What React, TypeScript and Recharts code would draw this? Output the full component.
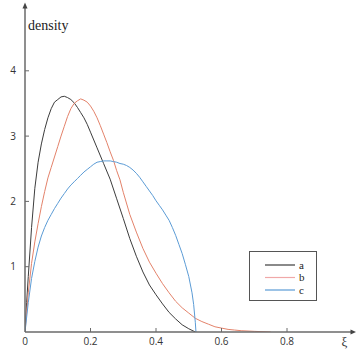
import * as React from 'react';
import { LineChart, Line, XAxis, YAxis, Legend, ReferenceDot } from 'recharts';

// density estimates, as [ξ, density]
const seriesA: [number, number][] = [
  [0, 0], [0.005, 0.45], [0.01, 0.85], [0.02, 1.6], [0.03, 2.2], [0.04, 2.6], [0.05, 2.88],
  [0.06, 3.1], [0.07, 3.28], [0.08, 3.42], [0.09, 3.52], [0.1, 3.56], [0.11, 3.6],
  [0.12, 3.61], [0.13, 3.59], [0.14, 3.56], [0.15, 3.51], [0.16, 3.44], [0.17, 3.36],
  [0.18, 3.28], [0.19, 3.18], [0.2, 3.06], [0.22, 2.82], [0.24, 2.58], [0.26, 2.34],
  [0.28, 2.04], [0.3, 1.74], [0.32, 1.43], [0.34, 1.16], [0.36, 0.92], [0.38, 0.72],
  [0.4, 0.57], [0.42, 0.43], [0.44, 0.3], [0.46, 0.2], [0.48, 0.11], [0.5, 0.05], [0.52, 0],
];

const seriesB: [number, number][] = [
  [0, 0], [0.01, 0.6], [0.02, 1.05], [0.03, 1.38], [0.04, 1.66], [0.05, 1.92], [0.06, 2.15],
  [0.07, 2.36], [0.08, 2.52], [0.09, 2.68], [0.1, 2.84], [0.11, 3.0], [0.12, 3.15],
  [0.13, 3.3], [0.14, 3.42], [0.15, 3.5], [0.16, 3.54], [0.17, 3.57], [0.18, 3.55],
  [0.19, 3.52], [0.2, 3.46], [0.21, 3.38], [0.22, 3.28], [0.23, 3.16], [0.24, 3.03],
  [0.25, 2.9], [0.26, 2.76], [0.27, 2.63], [0.28, 2.47], [0.29, 2.33], [0.3, 2.14],
  [0.32, 1.8], [0.34, 1.53], [0.36, 1.28], [0.38, 1.07], [0.4, 0.9], [0.42, 0.74],
  [0.44, 0.6], [0.46, 0.47], [0.48, 0.37], [0.5, 0.29], [0.52, 0.21], [0.54, 0.16],
  [0.56, 0.12], [0.58, 0.08], [0.6, 0.06], [0.62, 0.04], [0.64, 0.03], [0.66, 0.02],
  [0.7, 0.01], [0.75, 0],
];

const seriesC: [number, number][] = [
  [0, 0], [0.01, 0.45], [0.02, 0.82], [0.03, 1.08], [0.04, 1.3], [0.05, 1.47], [0.06, 1.6],
  [0.07, 1.71], [0.08, 1.8], [0.09, 1.89], [0.1, 1.97], [0.11, 2.05], [0.12, 2.12],
  [0.13, 2.19], [0.14, 2.25], [0.15, 2.3], [0.16, 2.35], [0.17, 2.4], [0.18, 2.45],
  [0.19, 2.49], [0.2, 2.53], [0.21, 2.57], [0.22, 2.6], [0.23, 2.61], [0.24, 2.62],
  [0.25, 2.62], [0.26, 2.62], [0.27, 2.61], [0.28, 2.6], [0.29, 2.58], [0.3, 2.57],
  [0.31, 2.55], [0.32, 2.52], [0.33, 2.48], [0.34, 2.43], [0.35, 2.37], [0.36, 2.3],
  [0.37, 2.23], [0.38, 2.16], [0.39, 2.09], [0.4, 2.01], [0.41, 1.94], [0.42, 1.87],
  [0.43, 1.79], [0.44, 1.71], [0.45, 1.6], [0.46, 1.48], [0.47, 1.34], [0.48, 1.2],
  [0.49, 1.03], [0.5, 0.85], [0.51, 0.6], [0.515, 0.42], [0.52, 0.15], [0.522, 0],
];

const seriesNames = ['a', 'b', 'c'];
const seriesColors = ['#3c3c3c', '#e3826a', '#5b9bd5'];
const legendColors = ['#3c3c3c', '#f0a8a8', '#5b9bd5'];

const xTicks = [0, 0.2, 0.4, 0.6, 0.8];
const yTicks = [1, 2, 3, 4];

const toRows = (pts: [number, number][]) => pts.map(([x, y]) => ({ x, y }));

const AXIS = '#6a6a6a';
const TICK_FONT = '"Open Sans", sans-serif';
const SERIF = "'Liberation Serif', 'Times New Roman', 'DejaVu Serif', serif";

const XTick = (props: any) => {
  const { x, y, payload } = props;
  return (
    <g>
      {payload.value !== 0 && <line x1={x} x2={x} y1={y} y2={y - 4} stroke={AXIS} strokeWidth={1} />}
      <text x={x} y={y + 13} textAnchor="middle" fontSize={10} fontFamily={TICK_FONT} fill="#333">
        {payload.value}
      </text>
    </g>
  );
};

const YTick = (props: any) => {
  const { x, y, payload } = props;
  return (
    <g>
      <line x1={x} x2={x + 4} y1={y} y2={y} stroke={AXIS} strokeWidth={1} />
      <text x={x - 9} y={y} dy="0.35em" textAnchor="end" fontSize={10} fontFamily={TICK_FONT} fill="#333">
        {payload.value}
      </text>
    </g>
  );
};

const LegendBox = () => (
  <div
    style={{
      width: 66,
      height: 48,
      border: '1px solid #555',
      background: '#fff',
      boxSizing: 'content-box',
    }}
  >
    <svg width={66} height={48}>
      {seriesNames.map((name, i) => (
        <g key={name}>
          <line x1={15} x2={45} y1={13 + i * 12.5} y2={13 + i * 12.5} stroke={legendColors[i]} strokeWidth={1.2} />
          <text x={49} y={13 + i * 12.5} dy="0.32em" fontSize={11} style={{ fontFamily: SERIF }} fill="#222">
            {name}
          </text>
        </g>
      ))}
    </svg>
  </div>
);

export default function App() {
  const all = [seriesA, seriesB, seriesC];
  return (
    <div style={{ position: 'absolute', left: 0, top: 0, background: '#fff' }}>
      <LineChart width={356} height={350} margin={{ top: 5.5, right: 3.5, bottom: 0, left: 0 }}>
        <XAxis
          type="number"
          dataKey="x"
          domain={[0, 1]}
          ticks={xTicks}
          allowDataOverflow
          height={18}
          tickSize={0}
          tickMargin={0}
          tick={<XTick />}
          axisLine={{ stroke: AXIS, strokeWidth: 1.5 }}
          tickLine={false}
          interval={0}
        />
        <YAxis
          type="number"
          dataKey="y"
          domain={[0, 5]}
          ticks={yTicks}
          allowDataOverflow
          width={25}
          tickSize={0}
          tickMargin={0}
          tick={<YTick />}
          axisLine={{ stroke: AXIS, strokeWidth: 1.5 }}
          tickLine={false}
          interval={0}
        />
        {all.map((pts, i) => (
          <Line
            key={seriesNames[i]}
            data={toRows(pts)}
            dataKey="y"
            name={seriesNames[i]}
            type="linear"
            stroke={seriesColors[i]}
            strokeWidth={1}
            dot={false}
            activeDot={false}
            isAnimationActive={false}
          />
        ))}
        {/* arrow heads and axis titles */}
        <ReferenceDot
          x={1}
          y={0}
          ifOverflow="visible"
          shape={(p: any) => (
            <g>
              <line x1={p.cx} x2={p.cx + 1} y1={p.cy} y2={p.cy} stroke={AXIS} strokeWidth={1.5} />
              <path d={`M${p.cx + 3.5},${p.cy} L${p.cx - 2},${p.cy - 2.5} L${p.cx - 2},${p.cy + 2.5} Z`} fill="#444" />
              <text x={p.cx - 8} y={p.cy + 14} textAnchor="middle" fontSize={13} style={{ fontFamily: SERIF }} fill="#333">
                ξ
              </text>
            </g>
          )}
        />
        <ReferenceDot
          x={0}
          y={5}
          ifOverflow="visible"
          shape={(p: any) => (
            <g>
              <path d={`M${p.cx},${p.cy - 3} L${p.cx - 2.5},${p.cy + 3} L${p.cx + 2.5},${p.cy + 3} Z`} fill="#444" />
              <text x={p.cx + 3} y={p.cy + 24.5} fontSize={14} style={{ fontFamily: SERIF }} fill="#222">
                density
              </text>
            </g>
          )}
        />
        <Legend
          layout="horizontal"
          verticalAlign="middle"
          content={<LegendBox />}
          wrapperStyle={{ position: 'absolute', left: 249, top: 251, width: 'auto' }}
        />
      </LineChart>
    </div>
  );
}
